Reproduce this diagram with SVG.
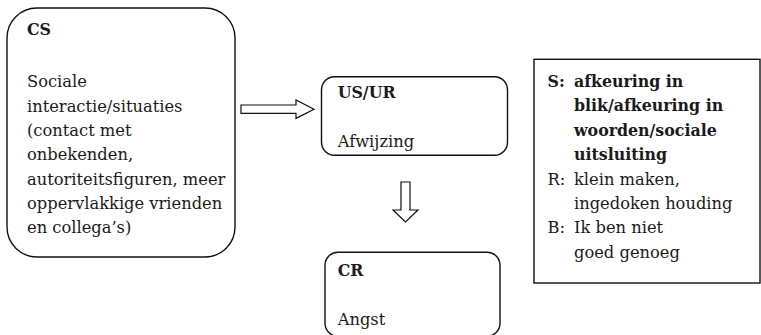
<svg xmlns="http://www.w3.org/2000/svg" width="761" height="335" viewBox="0 0 761 335">
  <style>
    .box { fill: #fff; stroke: #111; stroke-width: 1.4; }
    .arrow { fill: #fff; stroke: #111; stroke-width: 1.2; stroke-linejoin: miter; }
    text { font-family: "DejaVu Serif", "Liberation Serif", serif; font-size: 16.3px; fill: #1a1a1a; }
    .b { font-weight: bold; font-size: 15.8px; }
  </style>
  <rect width="761" height="335" fill="#fff"/>

  <!-- conditioned stimulus -->
  <g id="cs">
    <rect class="box" x="7" y="8" width="228" height="249" rx="30" ry="30"/>
    <text class="b" x="27" y="35">CS</text>
    <text x="27" y="87.3">Sociale</text>
    <text x="27" y="111.6">interactie/situaties</text>
    <text x="27" y="135.9">(contact met</text>
    <text x="27" y="160.2">onbekenden,</text>
    <text x="27" y="184.5">autoriteitsfiguren, meer</text>
    <text x="27" y="208.8">oppervlakkige vrienden</text>
    <text x="27" y="233.1">en collega’s)</text>
  </g>

  <!-- unconditioned stimulus / response -->
  <g id="usur">
    <rect class="box" x="321.5" y="76.7" width="186" height="78.5" rx="13" ry="13"/>
    <text class="b" x="337.7" y="98.3">US/UR</text>
    <text x="337.7" y="147.3">Afwijzing</text>
  </g>

  <!-- conditioned response -->
  <g id="cr">
    <rect class="box" x="325" y="252.3" width="175" height="84" rx="13" ry="13"/>
    <text class="b" x="337.7" y="275.7">CR</text>
    <text x="337.7" y="325">Angst</text>
  </g>

  <!-- S / R / B legend -->
  <g id="srb">
    <rect class="box" x="534" y="59.3" width="226" height="223.7"/>
    <text class="b" x="547.5" y="87">S:</text>
    <text class="b" x="574" y="87">afkeuring in</text>
    <text class="b" x="574" y="111.4">blik/afkeuring in</text>
    <text class="b" x="574" y="135.8">woorden/sociale</text>
    <text class="b" x="574" y="160.2">uitsluiting</text>
    <text x="547.5" y="184.6">R:</text>
    <text x="574" y="184.6">klein maken,</text>
    <text x="574" y="209">ingedoken houding</text>
    <text x="547.5" y="233.4">B:</text>
    <text x="574" y="233.4">Ik ben niet</text>
    <text x="574" y="257.8">goed genoeg</text>
  </g>

  <!-- block arrows -->
  <g id="connectors">
    <path class="arrow" d="M241,105 H296 V100 L314,109.2 L296,118.4 V113.3 H241 Z"/>
    <path class="arrow" d="M401,182 H410 V210 H418 L405.5,222 L393,210 H401 Z"/>
  </g>
</svg>
